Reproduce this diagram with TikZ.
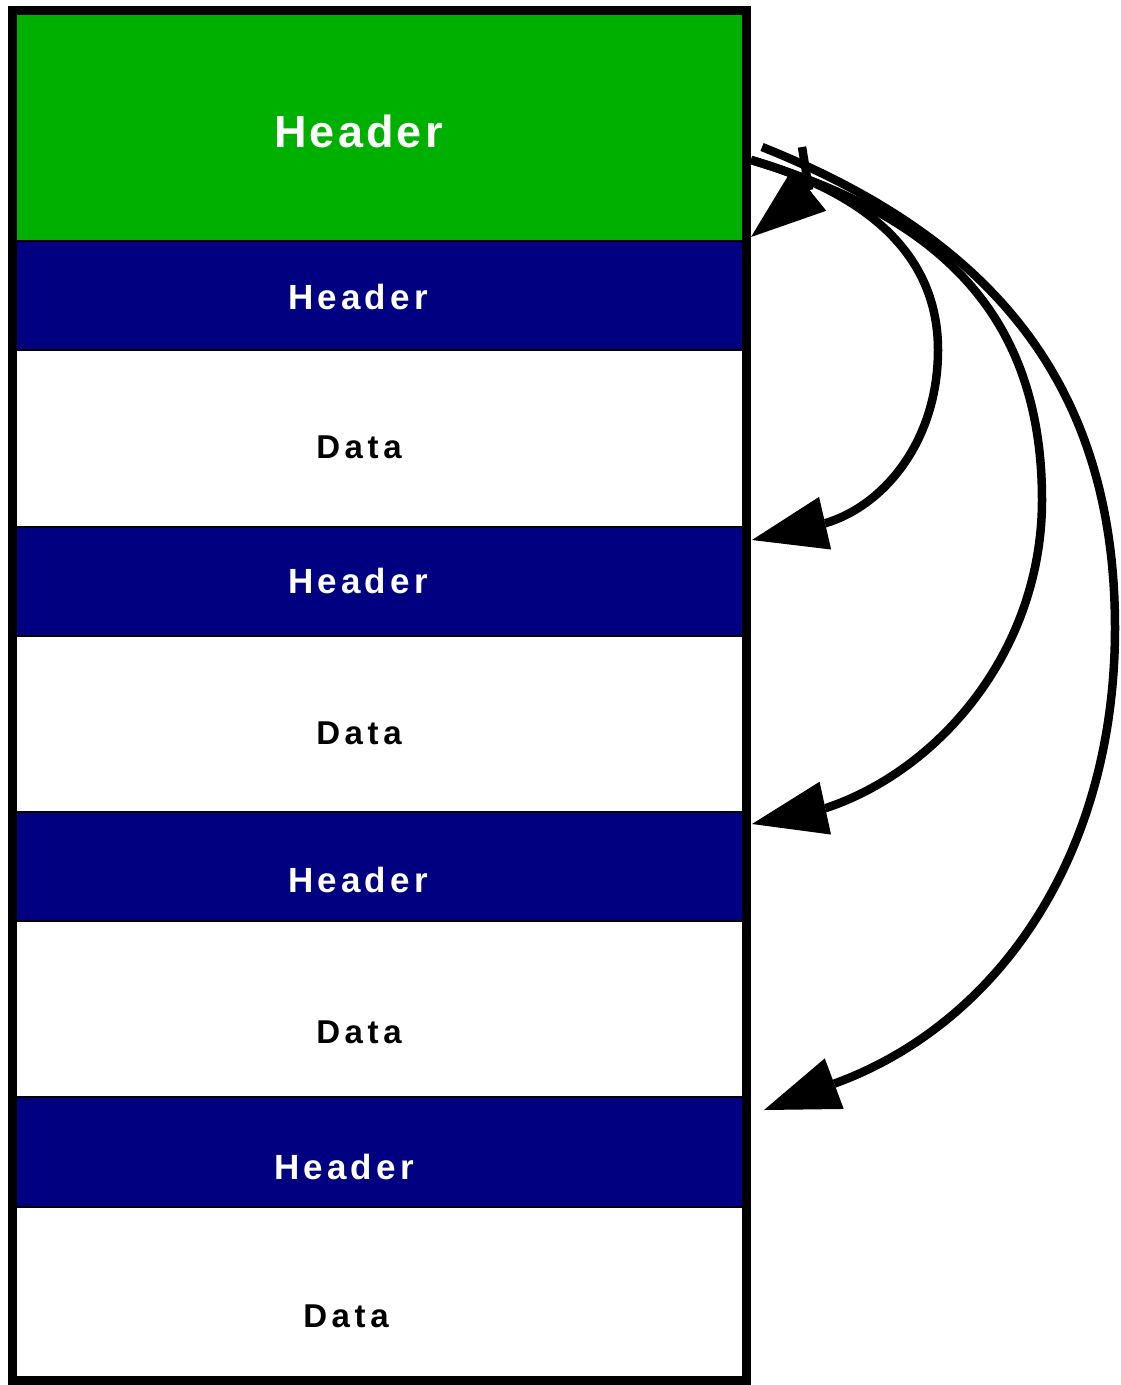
\documentclass[tikz,border=0pt]{standalone}
\usepackage{fontspec}
\setmainfont{Liberation Sans}
\newfontfamily\bighead[LetterSpace=7]{Liberation Sans}
\newfontfamily\smallhead[LetterSpace=12]{Liberation Sans}
\newfontfamily\datafont[LetterSpace=14]{Liberation Sans}
\usetikzlibrary{arrows.meta}
\definecolor{hdrgreen}{RGB}{0,176,0}
\definecolor{hdrnavy}{RGB}{0,0,128}
\begin{document}
\begin{tikzpicture}[x=1pt,y=-1pt,
  row/.style={draw=black,line width=2pt,minimum width=734pt,inner sep=0pt,outer sep=0pt},
  greenrow/.style={row,fill=hdrgreen},
  navyrow/.style={row,fill=hdrnavy},
  datarow/.style={row,fill=white},
  frame/.style={draw=black,line width=9pt,minimum width=734pt,minimum height=1369.5pt,inner sep=0pt,outer sep=0pt},
  bigtxt/.style={anchor=base,inner sep=0pt,text=white,font=\bighead\bfseries\fontsize{45}{52}\selectfont},
  hdrtxt/.style={anchor=base,inner sep=0pt,text=white,font=\smallhead\bfseries\fontsize{35}{40}\selectfont},
  datatxt/.style={anchor=base,inner sep=0pt,text=black,font=\datafont\bfseries\fontsize{33}{38}\selectfont},
  link/.style={draw=black,line width=8.5pt,-{Triangle[length=75pt,width=54pt,line width=0pt]}}
]
\useasboundingbox (0,0) rectangle (1120,1385);
% rows
\node[greenrow,minimum height=230.5pt] (h0) at (379.5,125.75) {};
\node[navyrow,minimum height=109pt] (h1) at (379.5,295.5) {};
\node[datarow,minimum height=177pt] (d1) at (379.5,438.5) {};
\node[navyrow,minimum height=109pt] (h2) at (379.5,581.5) {};
\node[datarow,minimum height=176pt] (d2) at (379.5,724) {};
\node[navyrow,minimum height=109pt] (h3) at (379.5,866.5) {};
\node[datarow,minimum height=176pt] (d3) at (379.5,1009) {};
\node[navyrow,minimum height=110pt] (h4) at (379.5,1152) {};
\node[datarow,minimum height=173pt] (d4) at (379.5,1293.5) {};
\node[frame] (box) at (379.5,695.25) {};
% labels
\node[bigtxt] (l0) at (358.5,147) {Header};
\node[hdrtxt] (l1) at (358,309) {Header};
\node[datatxt] (l2) at (359,458) {Data};
\node[hdrtxt] (l3) at (358,593.5) {Header};
\node[datatxt] (l4) at (359,744) {Data};
\node[hdrtxt] (l5) at (358,892.5) {Header};
\node[datatxt] (l6) at (359,1043) {Data};
\node[hdrtxt] (l7) at (344,1179) {Header};
\node[datatxt] (l8) at (346,1327.5) {Data};
% connector ends
\coordinate (s12) at (751,160);
\coordinate (s3) at (762,147);
\coordinate (s4) at (802,147);
\coordinate (b1) at (826,523);
\coordinate (t1) at (752,540);
\coordinate (b2) at (826,808);
\coordinate (t2) at (752,824);
\coordinate (b3) at (836,1083);
\coordinate (t3) at (764,1110);
\coordinate (b4) at (809,190);
\coordinate (t4) at (751,237);
% connectors
\draw[link] (s12) .. controls (855.5,190) and (938,247) .. (938,350)
  .. controls (938,440) and (885,505) .. (b1) -- (t1);
\draw[link] (s12) .. controls (922,212) and (1042,300) .. (1042,500)
  .. controls (1042,650) and (940,770) .. (b2) -- (t2);
\draw[link] (s3) .. controls (985,236) and (1115,378) .. (1115,628)
  .. controls (1115,858) and (996,1024) .. (b3) -- (t3);
\draw[link] (s4) -- (b4) -- (t4);
\end{tikzpicture}
\end{document}
